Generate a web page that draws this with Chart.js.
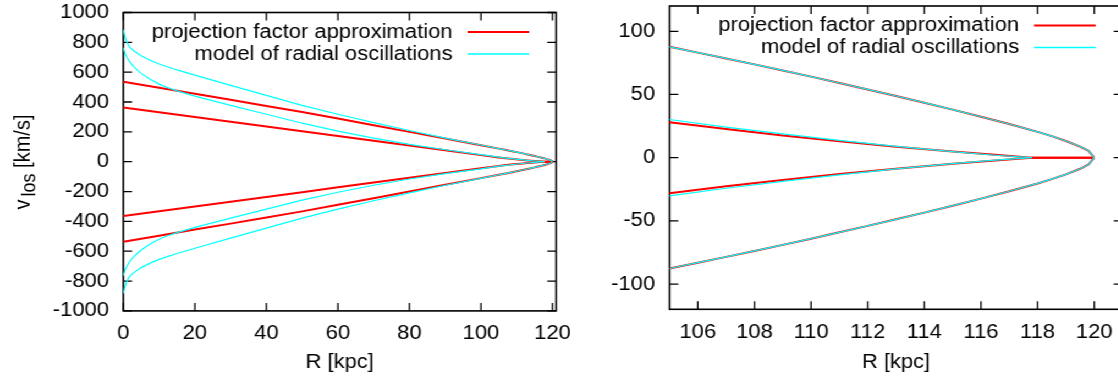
<!DOCTYPE html>
<html>
<head>
<meta charset="utf-8">
<script src="https://cdn.jsdelivr.net/npm/chart.js@4.4.0/dist/chart.umd.min.js"></script>
<style>
  html, body { margin: 0; padding: 0; background: #fff; overflow: hidden; width: 1118px; height: 382px; }
  #figure { position: absolute; left: 0; top: 0; width: 1030px; height: 382px; transform: scaleX(1.1); transform-origin: 0 0; }
  #left { position: absolute; left: 0; top: 0; }
  #right { position: absolute; left: 520px; top: 0; }
</style>
</head>
<body>
<div id="figure">
  <canvas id="left" width="520" height="382"></canvas>
  <canvas id="right" width="510" height="382"></canvas>
</div>
<script>
// Projected radius R [kpc] and line-of-sight velocity v_los [km/s]

// projection factor approximation, outer branch
const pfOuterR = [0, 10, 20, 30, 40, 50, 60, 70, 80, 90, 100, 105, 106, 107, 108, 109, 110, 111, 112, 113, 114, 115, 116, 117, 118, 118.5, 119, 119.5, 119.8, 120];
const pfOuterUp = [536, 496, 455, 415, 374, 333, 289, 245, 200, 155, 110, 87.7, 83.1, 78.5, 73.8, 69.0, 64.1, 59.1, 54.0, 48.8, 43.5, 38.0, 32.4, 26.6, 20.4, 17.0, 13.2, 8.8, 5.4, 0];
const pfOuterDown = [-536, -496, -455, -415, -374, -333, -289, -245, -200, -155, -110, -87.7, -83.1, -78.5, -73.8, -69.0, -64.1, -59.1, -54.0, -48.8, -43.5, -38.0, -32.4, -26.6, -20.4, -17.0, -13.2, -8.8, -5.4, 0];

// projection factor approximation, inner branch
const pfInnerR = [0, 10, 20, 30, 40, 50, 60, 70, 80, 90, 100, 105, 107, 109, 111, 113, 115, 116.5, 117.8, 120];
const pfInnerUp = [364, 332, 300, 268, 236, 204, 172, 140, 108, 76, 44, 28.1, 22.6, 17.6, 13.0, 8.7, 4.8, 2.2, 0, 0];
const pfInnerDown = [-364, -332, -300, -268, -236, -204, -172, -140, -108, -76, -44, -28.1, -22.6, -17.6, -13.0, -8.7, -4.8, -2.2, 0, 0];

// model of radial oscillations, outer branch
const roOuterR = [0, 0.5, 1, 1.5, 2, 3, 4, 5, 7.5, 10, 15, 20, 30, 40, 50, 60, 70, 80, 90, 100, 105, 106, 107, 108, 109, 110, 111, 112, 113, 114, 115, 116, 117, 118, 118.5, 119, 119.5, 119.8, 120];
const roOuterUp = [883, 835, 800, 778, 763, 742, 725, 710, 680, 655, 615, 580, 512, 445, 378, 318, 262, 209, 158, 112, 87.7, 83.1, 78.5, 73.8, 69.0, 64.1, 59.1, 54.0, 48.8, 43.5, 38.0, 32.4, 26.6, 20.4, 17.0, 13.2, 8.8, 5.4, 0];
const roOuterDown = [-883, -835, -800, -778, -763, -742, -725, -710, -680, -655, -615, -580, -512, -445, -378, -318, -262, -209, -158, -112, -87.7, -83.1, -78.5, -73.8, -69.0, -64.1, -59.1, -54.0, -48.8, -43.5, -38.0, -32.4, -26.6, -20.4, -17.0, -13.2, -8.8, -5.4, 0];

// model of radial oscillations, inner branch
const roInnerR = [0, 0.5, 1, 1.5, 2, 3, 4, 5, 7.5, 10, 12, 15, 20, 30, 40, 50, 60, 70, 80, 90, 100, 105, 107, 109, 111, 113, 115, 116.5, 117.8];
const roInnerUp = [764, 725, 700, 680, 662, 635, 612, 592, 552, 520, 500, 475, 440, 378, 318, 258, 205, 158, 116, 80, 48, 30.2, 24.2, 18.8, 13.6, 8.9, 4.7, 1.9, 0];
const roInnerDown = [-764, -725, -700, -680, -662, -635, -612, -592, -552, -520, -500, -475, -440, -378, -318, -258, -205, -158, -116, -80, -48, -30.2, -24.2, -18.8, -13.6, -8.9, -4.7, -1.9, 0];

// tick labels
const fullRTicks = [0, 20, 40, 60, 80, 100, 120];
const fullVTicks = [-1000, -800, -600, -400, -200, 0, 200, 400, 600, 800, 1000];
const zoomRTicks = [106, 108, 110, 112, 114, 116, 118, 120];
const zoomVTicks = [-100, -50, 0, 50, 100];

const seriesNames = ['projection factor approximation', 'model of radial oscillations'];
const RED = '#ff0000';
const CYAN = '#00ffff';
const FONT = { family: '"Liberation Sans", Arial, sans-serif', size: 20 };

const toPoints = (rs, vs) => rs.map((r, i) => ({ x: r, y: vs[i] }));

function buildDatasets() {
  const line = (label, rs, vs, color, width, order) => ({
    label, data: toPoints(rs, vs), borderColor: color, backgroundColor: color,
    borderWidth: width, pointRadius: 0, tension: 0, fill: false, order,
    clip: { left: 0, top: 2, right: 3, bottom: 2 }
  });
  return [
    line(seriesNames[0], pfOuterR, pfOuterUp, RED, 2, 2),
    line(seriesNames[0], pfInnerR, pfInnerUp, RED, 2, 2),
    line(seriesNames[0], pfInnerR, pfInnerDown, RED, 2, 2),
    line(seriesNames[0], pfOuterR, pfOuterDown, RED, 2, 2),
    line(seriesNames[1], roOuterR, roOuterUp, CYAN, 1.2, 1),
    line(seriesNames[1], roInnerR, roInnerUp, CYAN, 1.2, 1),
    line(seriesNames[1], roInnerR, roInnerDown, CYAN, 1.2, 1),
    line(seriesNames[1], roOuterR, roOuterDown, CYAN, 1.2, 1)
  ];
}

// gnuplot-like frame with inward ticks on all four sides
const framePlugin = {
  id: 'frame',
  beforeDatasetsDraw(chart) {
    const { ctx, chartArea: { left, right, top, bottom }, scales: { x, y } } = chart;
    ctx.save();
    ctx.strokeStyle = '#000';
    ctx.lineWidth = 1.3;
    ctx.beginPath();
    x.ticks.forEach(t => {
      const p = x.getPixelForValue(t.value);
      ctx.moveTo(p, bottom); ctx.lineTo(p, bottom - 8);
      ctx.moveTo(p, top); ctx.lineTo(p, top + 8);
    });
    y.ticks.forEach(t => {
      const p = y.getPixelForValue(t.value);
      ctx.moveTo(left, p); ctx.lineTo(left + 8, p);
      ctx.moveTo(right, p); ctx.lineTo(right - 8, p);
    });
    ctx.stroke();
    ctx.lineWidth = 1.6;
    ctx.strokeRect(left, top, right - left, bottom - top);
    ctx.restore();
  }
};

// key in the top-right corner: right-aligned text followed by a line sample
const keyPlugin = {
  id: 'key',
  afterDatasetsDraw(chart) {
    const { ctx, chartArea: { right, top } } = chart;
    const entries = [[seriesNames[0], RED, 2], [seriesNames[1], CYAN, 1.5]];
    const end = right - 24.5, start = end - 56;
    ctx.save();
    ctx.font = `${FONT.size}px ${FONT.family}`;
    ctx.fillStyle = '#000';
    ctx.textAlign = 'right';
    ctx.textBaseline = 'middle';
    entries.forEach(([text, color, w], i) => {
      const yy = top + 19.5 + i * 22;
      ctx.fillText(text, start - 13.6, yy);
      ctx.strokeStyle = color; ctx.lineWidth = w;
      ctx.beginPath(); ctx.moveTo(start, yy); ctx.lineTo(end, yy); ctx.stroke();
    });
    ctx.restore();
  }
};

// vertical axis title with subscript
const vTitlePlugin = {
  id: 'vTitle',
  afterDraw(chart, args, opts) {
    if (!opts.show) return;
    const { ctx } = chart;
    const big = `${FONT.size}px ${FONT.family}`, small = `18px ${FONT.family}`;
    ctx.save();
    ctx.font = big; const wV = ctx.measureText('v').width; const wT = ctx.measureText(' [km/s]').width;
    ctx.font = small; const wS = ctx.measureText('los').width;
    const gap = 3;
    const total = wV + gap + wS + wT;
    ctx.translate(opts.x, opts.y);
    ctx.rotate(-Math.PI / 2);
    ctx.fillStyle = '#000';
    ctx.textBaseline = 'alphabetic';
    ctx.textAlign = 'left';
    let cx = -total / 2;
    ctx.font = big; ctx.fillText('v', cx, 6); cx += wV + gap;
    ctx.font = small; ctx.fillText('los', cx, 11); cx += wS;
    ctx.font = big; ctx.fillText(' [km/s]', cx, 6);
    ctx.restore();
  }
};

function makeChart(canvasId, cfg) {
  return new Chart(document.getElementById(canvasId), {
    type: 'line',
    data: { datasets: buildDatasets() },
    plugins: [framePlugin, keyPlugin, vTitlePlugin],
    options: {
      responsive: false,
      animation: false,
      devicePixelRatio: 1,
      layout: { padding: cfg.padding },
      plugins: {
        legend: { display: false },
        tooltip: { enabled: false },
        vTitle: cfg.vTitle
      },
      scales: {
        x: {
          type: 'linear', min: cfg.rMin, max: cfg.rMax,
          grid: { display: false, drawTicks: false }, border: { display: false },
          ticks: { font: FONT, color: '#000', padding: cfg.xPad, maxRotation: 0, autoSkip: false, callback: v => String(v) },
          afterBuildTicks: s => { s.ticks = cfg.rTicks.map(v => ({ value: v })); },
          afterFit: s => { s.height = cfg.xAxisHeight; s.paddingLeft = 0; s.paddingRight = 0; },
          title: { display: true, text: 'R [kpc]', font: FONT, color: '#000', padding: { top: 0, bottom: 8 } }
        },
        y: {
          type: 'linear', min: cfg.vMin, max: cfg.vMax,
          grid: { display: false, drawTicks: false }, border: { display: false },
          ticks: { font: FONT, color: '#000', padding: 13, autoSkip: false, callback: v => String(v) },
          afterBuildTicks: s => { s.ticks = cfg.vTicks.map(v => ({ value: v })); },
          afterFit: s => { s.width = cfg.yAxisWidth; s.paddingTop = 0; s.paddingBottom = 0; }
        }
      }
    }
  });
}

makeChart('left', {
  rMin: 0, rMax: 121, vMin: -1000, vMax: 1000,
  rTicks: fullRTicks, vTicks: fullVTicks,
  padding: { top: 12.5, right: 14.5, left: 0, bottom: 0 },
  yAxisWidth: 112.1, xAxisHeight: 71.1, xPad: 10.5,
  vTitle: { show: true, x: 21, y: 162 }
});

makeChart('right', {
  rMin: 105, rMax: 121, vMin: -120, vMax: 120,
  rTicks: zoomRTicks, vTicks: zoomVTicks,
  padding: { top: 6, right: 9.5, left: 0, bottom: 0 },
  yAxisWidth: 88.6, xAxisHeight: 72.7, xPad: 11.5,
  vTitle: { show: false }
});
</script>
</body>
</html>
